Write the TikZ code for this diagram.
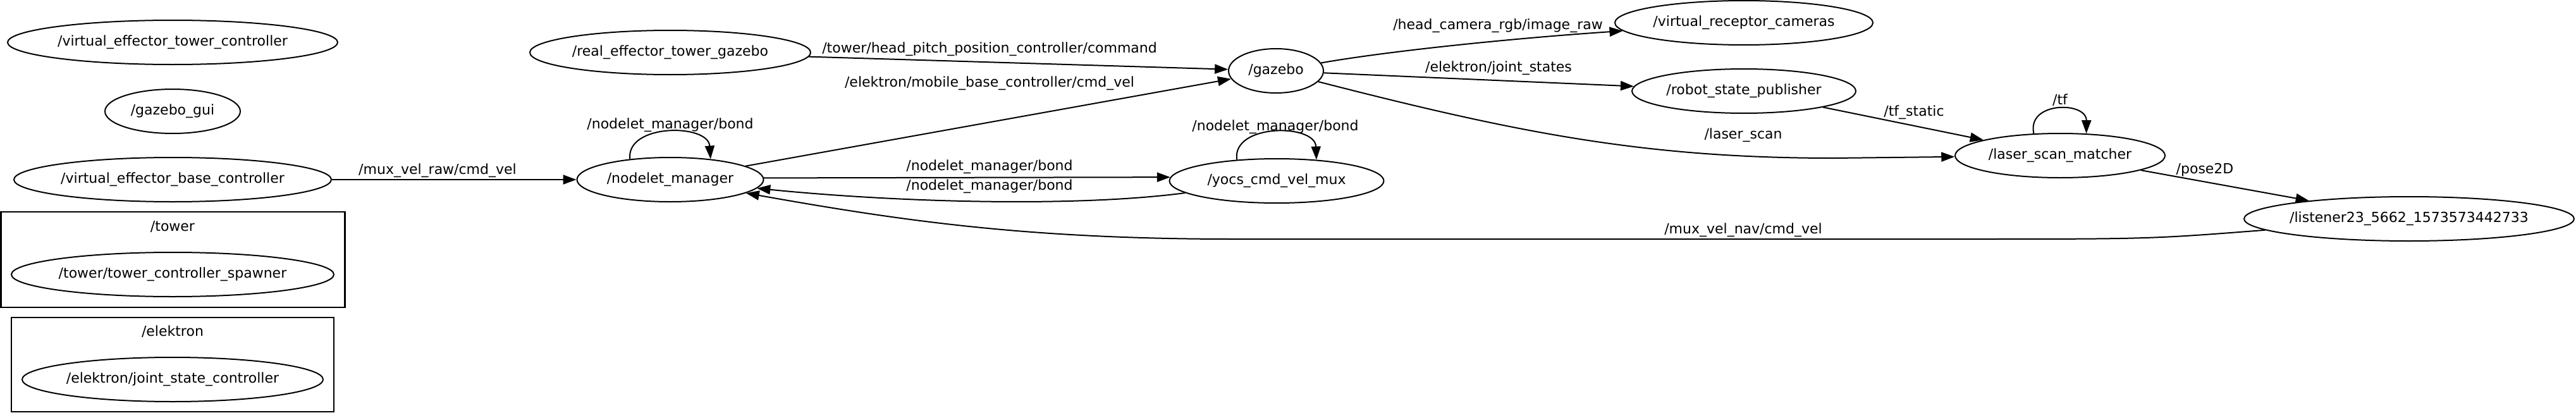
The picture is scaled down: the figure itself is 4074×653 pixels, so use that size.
\documentclass[tikz,border=0pt]{standalone}
\usepackage{fontspec}
\setmainfont{DejaVu Sans}
\usetikzlibrary{arrows.meta,shapes.geometric}
\newcommand{\zw}[1]{\makebox[0pt]{#1}}
\begin{document}
\begin{tikzpicture}[x=1pt,y=-1pt,
  txt/.style={font=\fontsize{22}{26}\selectfont, text height=16pt, text depth=5pt},
  rosnode/.style={ellipse, draw, line width=2pt, minimum height=70pt, inner sep=0pt, txt},
  elabel/.style={inner sep=0pt, txt},
  conn/.style={draw, line width=2pt, -{Triangle[length=21pt,width=15pt]}},
  cluster/.style={draw, line width=2.5pt, inner sep=0pt, rectangle}
]
\useasboundingbox (0,0) rectangle (4074,653);

% clusters
\node[cluster, minimum width=544pt, minimum height=151pt] (towerbox) at (273.4,410.5) {};
\node[elabel] (towerlbl) at (273,360) {/tower};
\node[cluster, minimum width=510pt, minimum height=149pt] (elektronbox) at (273,576.5) {};
\node[elabel] (elektronlbl) at (273,526) {/elektron};

% nodes
\node[rosnode, minimum width=522pt] (vetc) at (273,67) {\zw{/virtual\_effector\_tower\_controller}};
\node[rosnode, minimum width=214pt] (gui) at (273,176) {\zw{/gazebo\_gui}};
\node[rosnode, minimum width=502pt] (vebc) at (273,284) {\zw{/virtual\_effector\_base\_controller}};
\node[rosnode, minimum width=510pt] (spawner) at (273,434) {\zw{/tower/tower\_controller\_spawner}};
\node[rosnode, minimum width=476pt] (jsc) at (273,600) {\zw{/elektron/joint\_state\_controller}};
\node[rosnode, minimum width=444pt] (retg) at (1060,83) {\zw{/real\_effector\_tower\_gazebo}};
\node[rosnode, minimum width=295pt] (nm) at (1060,284) {\zw{/nodelet\_manager}};
\node[rosnode, minimum width=150pt] (gazebo) at (2018,112) {\zw{/gazebo}};
\node[rosnode, minimum width=339pt] (yocs) at (2019,286) {\zw{/yocs\_cmd\_vel\_mux}};
\node[rosnode, minimum width=408pt] (cams) at (2758,36) {\zw{/virtual\_receptor\_cameras}};
\node[rosnode, minimum width=354pt] (rsp) at (2758,144) {\zw{/robot\_state\_publisher}};
\node[rosnode, minimum width=332pt] (lsm) at (3258,246) {\zw{/laser\_scan\_matcher}};
\node[rosnode, minimum width=522pt] (listener) at (3810,346) {\zw{/listener23\_5662\_1573573442733}};

% edges
\draw[conn] (vebc) -- (nm);
\node[elabel] (l1) at (692,270) {/mux\_vel\_raw/cmd\_vel};

\draw[conn] (nm.153) .. controls (990,195) and (1120,195) .. (nm.27);
\node[elabel] (l2) at (1060,198) {/nodelet\_manager/bond};

\draw[conn] (retg) -- (gazebo);
\node[elabel] (l3) at (1565,78) {/tower/head\_pitch\_position\_controller/command};

\draw[conn] (nm) -- (gazebo);
\node[elabel] (l4) at (1565,132) {/elektron/mobile\_base\_controller/cmd\_vel};

\draw[conn] (nm.1.2) -- (yocs.178);
\node[elabel] (l5) at (1565,264) {/nodelet\_manager/bond};

\draw[conn] (yocs) .. controls (1700,328) and (1420,320) .. (nm);
\node[elabel] (l6) at (1565,295) {/nodelet\_manager/bond};

\draw[conn] (yocs.152) .. controls (1948,195) and (2080,195) .. (yocs.28);
\node[elabel] (l7) at (2017,201) {/nodelet\_manager/bond};

\draw[conn] (gazebo) .. controls (2200,80) and (2400,60) .. (cams);
\node[elabel] (l8) at (2369,41) {/head\_camera\_rgb/image\_raw};

\draw[conn] (gazebo) -- (rsp);
\node[elabel] (l9) at (2370,108) {/elektron/joint\_states};

\draw[conn] (gazebo) .. controls (2400,210) and (2600,250) .. (2900,250) -- (lsm);
\node[elabel] (l10) at (2757,214) {/laser\_scan};

\draw[conn] (rsp) -- (lsm);
\node[elabel] (l11) at (3027,178) {/tf\_static};

\draw[conn] (lsm.140) .. controls (3205,160) and (3300,160) .. (lsm.40);
\node[elabel] (l12) at (3258,160) {/tf};

\draw[conn] (lsm) -- (listener);
\node[elabel] (l13) at (3487,269) {/pose2D};

\draw[conn] (listener) .. controls (3400,378) .. (3100,378) -- (1950,378) .. controls (1620,378) and (1420,348) .. (nm);
\node[elabel] (l14) at (2757,364) {/mux\_vel\_nav/cmd\_vel};
\end{tikzpicture}
\end{document}
